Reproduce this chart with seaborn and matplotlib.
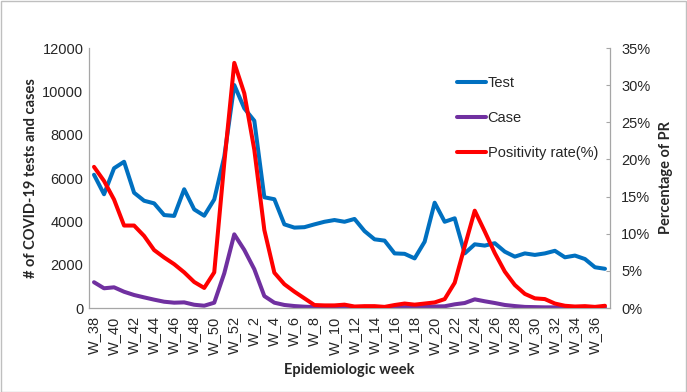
import pandas as pd
import numpy as np
import matplotlib
matplotlib.use('Agg')
import matplotlib.pyplot as plt
import seaborn as sns
from matplotlib.ticker import FuncFormatter
from matplotlib.patches import Rectangle

weeks = [f'W_{w}' for w in list(range(38, 53)) + list(range(1, 38))]

test = [6150, 5250, 6450, 6750, 5320, 4950, 4830, 4290, 4250, 5480,
        4550, 4260, 5010, 6980, 10290, 9215, 8640, 5110, 5020, 3860,
        3710, 3730, 3860, 3980, 4060, 3980, 4110, 3550, 3170, 3110,
        2520, 2500, 2290, 3060, 4860, 3980, 4140, 2520, 2940, 2880,
        2990, 2600, 2370, 2520, 2450, 2520, 2640, 2340, 2420, 2260,
        1880, 1810]

case = [1190, 910, 955, 750, 600, 490, 385, 290, 245, 260,
        150, 105, 245, 1600, 3400, 2680, 1790, 550, 245, 140,
        90, 60, 40, 30, 20, 20, 20, 20, 20, 20,
        30, 40, 50, 60, 70, 80, 170, 230, 400, 310,
        230, 140, 90, 50, 40, 30, 30, 20, 20, 20,
        20, 20]

pr = [19.0, 17.1, 14.6, 11.1, 11.1, 9.7, 7.8, 6.8, 5.9, 4.8,
      3.5, 2.7, 4.8, 19.5, 33.0, 28.9, 21.3, 10.5, 4.75, 3.2,
      2.2, 1.3, 0.4, 0.35, 0.35, 0.45, 0.2, 0.25, 0.25, 0.15,
      0.4, 0.6, 0.45, 0.6, 0.75, 1.2, 3.4, 8.3, 13.1, 10.3,
      7.4, 4.9, 3.1, 1.9, 1.3, 1.2, 0.6, 0.3, 0.2, 0.25,
      0.15, 0.3]

df = pd.DataFrame({'idx': np.arange(len(weeks)), 'week': weeks,
                   'Test': test, 'Case': case, 'PR': pr})

sns.set_style('white')
plt.rcParams['font.family'] = ['Liberation Sans', 'DejaVu Sans']

fig = plt.figure(figsize=(6.87, 3.92), dpi=100)
ax = fig.add_axes([89/687, 84/392, 521/687, 260/392])
ax2 = ax.twinx()

blue, purple, red = '#0070C0', '#7030A0', '#FF0000'
lw = 2.9

sns.lineplot(data=df, x='idx', y='Test', ax=ax, color=blue, lw=lw, label='Test', legend=False)
sns.lineplot(data=df, x='idx', y='Case', ax=ax, color=purple, lw=lw, label='Case', legend=False)
sns.lineplot(data=df, x='idx', y='PR', ax=ax2, color=red, lw=lw, label='Positivity rate(%)', legend=False)

ax.set_xlim(-0.5, len(weeks) - 0.5)
ax.set_ylim(0, 12000)
ax2.set_ylim(0, 35)
ax.set_yticks(range(0, 12001, 2000))
ax2.set_yticks(range(0, 36, 5))
ax2.yaxis.set_major_formatter(FuncFormatter(lambda v, p: f'{v:.0f}%'))

ax.set_xticks(df['idx'][::2])
ax.set_xticklabels(df['week'][::2], rotation=90, fontsize=10.5)
ax.tick_params(axis='y', labelsize=10.5, length=0, pad=4)
ax.tick_params(axis='x', length=3, width=0.8, color='#a6a6a6', pad=3)
ax2.tick_params(axis='y', labelsize=10.5, length=3, width=0.8, color='#a6a6a6', direction='in', pad=8)

for a in (ax, ax2):
    for s in a.spines.values():
        s.set_visible(False)
    a.grid(False)
ax.spines['left'].set_visible(True)
ax.spines['bottom'].set_visible(True)
ax2.spines['right'].set_visible(True)
for s in (ax.spines['left'], ax.spines['bottom'], ax2.spines['right']):
    s.set_color('#a6a6a6')
    s.set_linewidth(0.9)

title_font = dict(family=['Lato', 'DejaVu Sans'], fontweight='bold', fontsize=10.5)
ax.set_xlabel('Epidemiologic week', labelpad=6, **title_font)
ax.set_ylabel('# of COVID-19 tests and cases', labelpad=3, **title_font)
ax2.set_ylabel('Percentage of PR', labelpad=6, **title_font)

h1, l1 = ax.get_legend_handles_labels()
h2, l2 = ax2.get_legend_handles_labels()
fig.legend(h1 + h2, l1 + l2, loc='upper left', bbox_to_anchor=(457/687, 1 - 76/392),
           frameon=False, fontsize=10.5, handlelength=2.0, handletextpad=0.1,
           labelspacing=1.45, borderpad=0, borderaxespad=0)

fig.patches.append(Rectangle((0.001, 0.001), 0.997, 0.997, transform=fig.transFigure,
                             fill=False, edgecolor='#bfbfbf', lw=1))

fig.savefig('out.png', dpi=100)
